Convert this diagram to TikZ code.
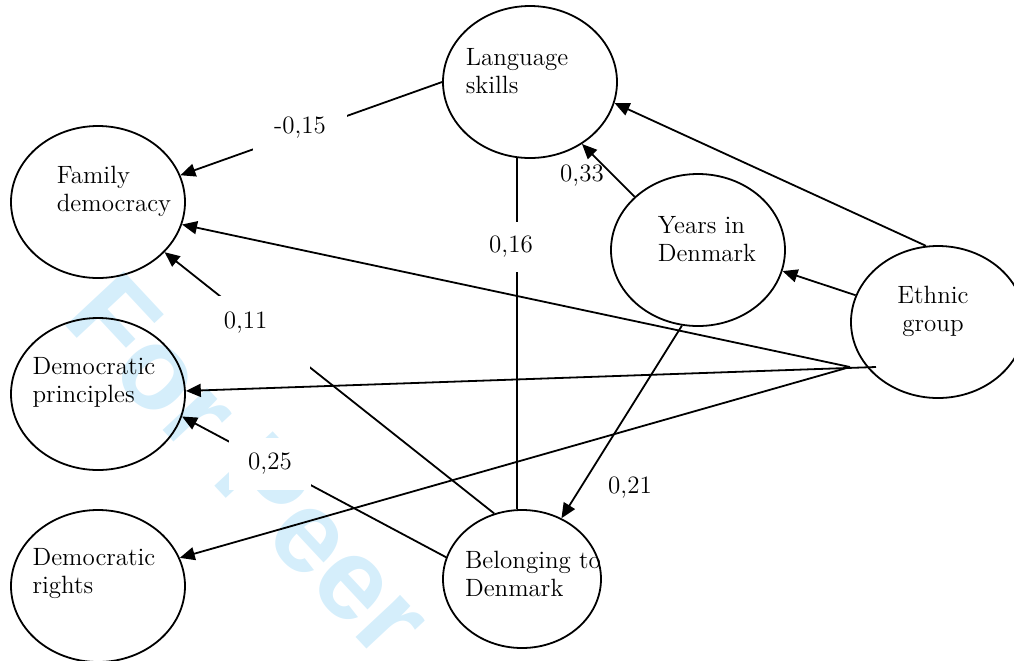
\documentclass[tikz,border=0pt]{standalone}
\usepackage{fontspec}
\newfontfamily\wmfont{Liberation Sans}
\usetikzlibrary{shapes.geometric,arrows.meta}
\definecolor{wmblue}{RGB}{213,238,251}

\begin{document}
\begin{tikzpicture}[x=0.5pt,y=-0.5pt, line width=0.9pt,
 var/.style={draw, ellipse, minimum width=87pt, minimum height=76pt, inner sep=0pt},
 txt/.style={align=left, inner sep=0pt, font=\fontsize{12.5}{14}\selectfont},
 coef/.style={inner xsep=10pt, inner ysep=7.5pt, font=\fontsize{12.5}{14}\selectfont},
 gap/.style={coef, fill=white},
 eff/.style={-{Triangle[length=7.5pt,width=6.5pt]}},
 wm/.style={anchor=base west, rotate=-47, text=wmblue, inner sep=0pt,
   font=\wmfont\bfseries\fontsize{58}{58}\selectfont}]
 \clip (0,0) rectangle (1014,660);
 \node[wm] (wmark) at (60,320) {For Peer};
 % latent variables
 \node[var] (fam) at (98,202) {};
 \node[var] (prin) at (98,394) {};
 \node[var] (rights) at (98,586) {};
 \node[var] (lang) at (530,82) {};
 \node[var] (years) at (698,250) {};
 \node[var] (ethnic) at (938,322) {};
 \node[var, minimum width=79pt, minimum height=69pt] (bel) at (522,579) {};
 \node[txt] (fam-t) at (114,191) {Family\\democracy};
 \node[txt] (prin-t) at (94,382) {Democratic\\principles};
 \node[txt] (rights-t) at (94,574) {Democratic\\rights};
 \node[txt] (lang-t) at (517,71) {Language\\skills};
 \node[txt] (years-t) at (707,239) {Years in\\Denmark};
 \node[txt, align=center] (ethnic-t) at (933,311) {Ethnic\\group};
 \node[txt] (bel-t) at (533,574) {Belonging to\\Denmark};
 \coordinate (hub) at (850,367);
 % paths
 \draw[eff] (lang.west) -- (fam.18);
 \draw[eff] (bel.113) -- (fam.-37);
 \draw[eff] (bel.164) -- (prin.-15);
 \draw[eff] (hub) -- (fam.-15);
 \draw[eff] ([xshift=13pt]hub) -- (prin.2);
 \draw[eff] (hub) -- (rights.19);
 \draw[eff] (ethnic.99) -- (lang.-14);
 \draw[eff] (ethnic.162) -- (years.-14);
 \draw[eff] (years.258) -- (bel.57);
 \draw[eff] (years.140) -- (lang.-50);
 \draw (lang.260) -- (lang.260 |- bel.north);
 % coefficients
 \node[gap, inner xsep=10.5pt] (c15) at (300,128) {-0,15};
 \node[gap, anchor=north west, align=left, text width=34pt, text depth=12pt,
   inner xsep=9pt, inner ysep=8pt] (c11) at (205,295) {0,11};
 \node[gap, inner xsep=9.5pt] (c25) at (270,464) {0,25};
 \node[gap, inner ysep=7pt] (c16) at (511,247) {0,16};
 \node[coef] (c33) at (582,176) {0,33};
 \node[coef] (c21) at (630,488) {0,21};
\end{tikzpicture}
\end{document}
